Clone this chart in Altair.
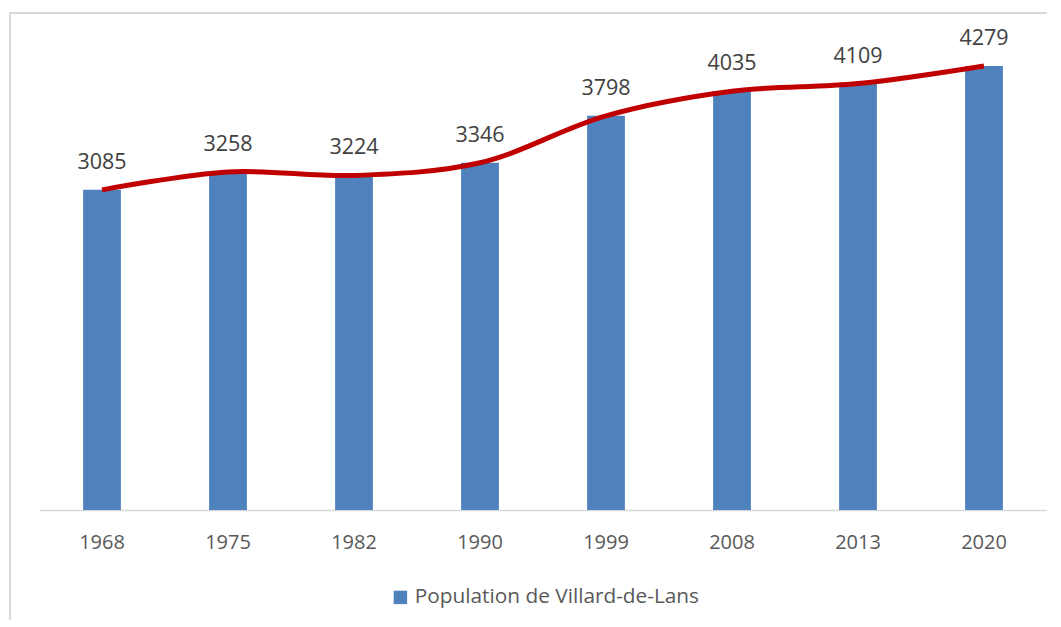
import altair as alt
import pandas as pd

years = ["1968", "1975", "1982", "1990", "1999", "2008", "2013", "2020"]
population = [3085, 3258, 3224, 3346, 3798, 4035, 4109, 4279]
series_name = "Population de Villard-de-Lans"

df = pd.DataFrame({"year": years, "pop": population, "series": [series_name] * len(years)})

FONT = "Open Sans"

xscale = alt.Scale(type="band", paddingInner=0.7, paddingOuter=0.35)
yscale = alt.Scale(domain=[0, 4500])

base = alt.Chart(df).encode(
    x=alt.X("year:N", scale=xscale, sort=years,
            axis=alt.Axis(title=None, labelAngle=0, ticks=False, labelFontSize=20,
                          labelColor="#595959", labelFont=FONT, domainColor="#d9d9d9",
                          domainWidth=1.5, labelPadding=22)),
)

bars = base.mark_bar(color="#4F81BD").encode(
    y=alt.Y("pop:Q", scale=yscale, axis=None),
    color=alt.Color("series:N", scale=alt.Scale(range=["#4F81BD"]),
                    legend=alt.Legend(title=None, orient="none", legendX=351, legendY=544,
                                      symbolType="square", symbolSize=180,
                                      symbolStrokeWidth=0, labelFontSize=20.8,
                                      labelFont=FONT, labelColor="#595959",
                                      labelLimit=400, symbolOpacity=1)),
)

line = base.mark_line(color="#C00000", strokeWidth=5, interpolate="catmull-rom").encode(
    y=alt.Y("pop:Q", scale=yscale),
)

labels = base.mark_text(dy=-27, fontSize=21.5, font=FONT, color="#404040").encode(
    y=alt.Y("pop:Q", scale=yscale),
    text=alt.Text("pop:Q", format="d"),
)

border = alt.Chart(pd.DataFrame({"a": [0]})).mark_rect(
    fill="transparent", stroke="#d9d9d9", strokeWidth=2
).encode(x=alt.value(-29), x2=alt.value(1060), y=alt.value(-30), y2=alt.value(660))

chart = alt.layer(border, bars, line, labels).properties(
    width=1008, height=467,
    autosize=alt.AutoSizeParams(type="none"),
    padding={"left": 31, "top": 35, "right": 0, "bottom": 110},
    background="white",
).configure_view(strokeWidth=0, stroke="transparent")

chart.save("out.html", embed_options={"renderer": "svg", "actions": False})
